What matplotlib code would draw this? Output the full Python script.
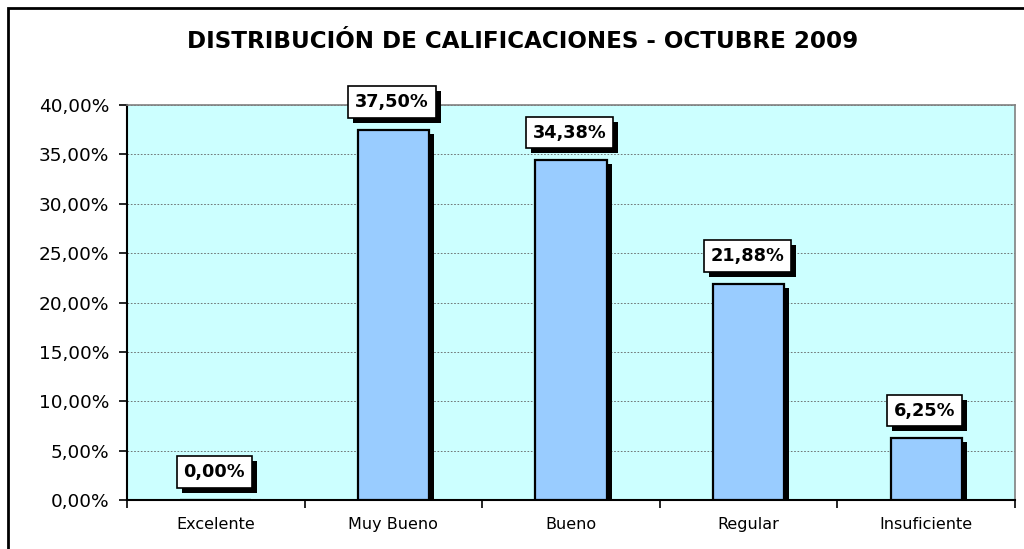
import matplotlib
matplotlib.use('Agg')
from matplotlib import pyplot as plt
from matplotlib.patches import Rectangle
from matplotlib.transforms import ScaledTranslation
from matplotlib.ticker import MultipleLocator, FuncFormatter
import matplotlib.patheffects as pe

categorias = ['Excelente', 'Muy Bueno', 'Bueno', 'Regular', 'Insuficiente']
valores = [0.0, 0.375, 0.3438, 0.2188, 0.0625]
etiquetas = ['0,00%', '37,50%', '34,38%', '21,88%', '6,25%']
titulo = 'DISTRIBUCIÓN DE CALIFICACIONES - OCTUBRE 2009'

plt.rcParams['font.family'] = ['DejaVu Sans']

fig = plt.figure(figsize=(10.24, 5.49), dpi=100)
ax = fig.add_axes([127/1024, 1 - 500/549, (1015-127)/1024, (500-105)/549])
ax.set_facecolor('#CCFFFF')

x = list(range(len(categorias)))
ancho = 0.40

# sombra de las barras
sombra = ax.transData + ScaledTranslation(5/100, -4/100, fig.dpi_scale_trans)
ax.bar(x, valores, width=ancho, color='black', transform=sombra, zorder=2)
ax.bar(x, valores, width=ancho, color='#99CCFF', edgecolor='black', linewidth=1.6, zorder=3)

# etiquetas con caja y sombra
for xi, v, lab in zip(x, valores, etiquetas):
    t = ax.annotate(lab, (xi, v), xytext=(-1, 20), textcoords='offset points',
                    ha='center', va='center', fontsize=12.8, fontweight='bold',
                    color='black', zorder=5,
                    bbox=dict(boxstyle='square,pad=0.38', fc='white', ec='black', lw=1.2))
    t.get_bbox_patch().set_path_effects([
        pe.SimplePatchShadow(offset=(3.6, -3.6), shadow_rgbFace='black', alpha=1.0),
        pe.Normal()])

ax.set_xlim(-0.5, 4.5)
ax.set_ylim(0, 0.40)
ax.yaxis.set_major_locator(MultipleLocator(0.05))
ax.yaxis.set_major_formatter(FuncFormatter(lambda v, p: ('%.2f%%' % (v * 100)).replace('.', ',')))
ax.grid(axis='y', color='#606060', linestyle=(0, (2, 2)), linewidth=0.6, zorder=1)
ax.set_axisbelow(True)

ax.set_xticks(x)
ax.set_xticklabels(categorias, fontsize=11.5)
ax.set_xticks([i + 0.5 for i in range(-1, 5)], minor=True)
ax.tick_params(axis='x', which='major', length=0, pad=12)
ax.tick_params(axis='x', which='minor', length=6, width=1.2, direction='out')
ax.tick_params(axis='y', length=6, width=1.2, direction='out', labelsize=13.3, pad=7)

for s in ['left', 'bottom']:
    ax.spines[s].set_linewidth(1.5)
    ax.spines[s].set_color('black')
for s in ['top', 'right']:
    ax.spines[s].set_linewidth(1.2)
    ax.spines[s].set_color('#808080')

fig.text(523/1024, 1 - 42/549, titulo, ha='center', va='center', fontsize=16.6, fontweight='bold')

# marco exterior del gráfico
fig.patches.append(Rectangle((8/1024, -0.05), 1.1, 1.05 - 8/549, transform=fig.transFigure,
                             fill=False, ec='black', lw=2, clip_on=False))

plt.savefig('out.png', dpi=100)
